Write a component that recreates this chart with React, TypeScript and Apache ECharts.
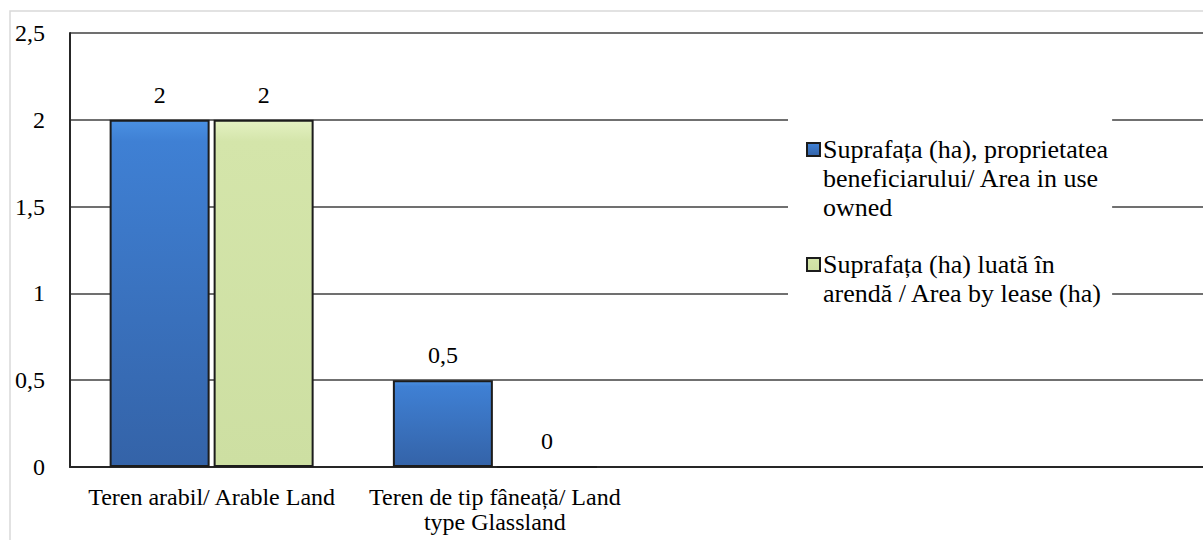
import React, { useEffect, useRef } from "react";
import * as echarts from "echarts";

const categories = [
  "Teren arabil/ Arable Land",
  "Teren de tip fâneață/ Land\ntype Glassland",
  "",
  "",
];
const seriesNames = [
  "Suprafața (ha), proprietatea beneficiarului/ Area in use owned",
  "Suprafața (ha) luată în arendă / Area by lease (ha)",
];
const legendLines: Record<string, string> = {
  [seriesNames[0]]: "\n\nSuprafața (ha), proprietatea\nbeneficiarului/ Area in use\nowned",
  [seriesNames[1]]: "\nSuprafața (ha) luată în\narendă / Area by lease (ha)",
};
const ownedValues = [2, 0.5, null, null];
const leaseValues = [2, 0, null, null];
const yTicks = [0, 0.5, 1, 1.5, 2, 2.5];

const FONT = "Liberation Serif";

export default function App() {
  const ref = useRef<HTMLDivElement>(null);
  useEffect(() => {
    if (!ref.current) return;
    const chart = echarts.init(ref.current, null, { renderer: "svg" });
    const blue = new echarts.graphic.LinearGradient(0, 0, 0, 1, [
      { offset: 0, color: "#4a90e2" },
      { offset: 0.06, color: "#3f80d4" },
      { offset: 1, color: "#3463a8" },
    ]);
    const green = new echarts.graphic.LinearGradient(0, 0, 0, 1, [
      { offset: 0, color: "#e4f1c2" },
      { offset: 0.06, color: "#d4e5aa" },
      { offset: 1, color: "#cddfa2" },
    ]);
    const label = {
      show: true,
      position: "top" as const,
      distance: 13,
      fontFamily: FONT,
      fontSize: 24,
      color: "#000",
      formatter: (p: any) => String(p.value).replace(".", ","),
    };
    chart.setOption({
      animation: false,
      backgroundColor: "#fff",
      textStyle: { fontFamily: FONT },
      graphic: [
        {
          type: "rect",
          shape: { x: 10, y: 11, width: 1220, height: 560 },
          style: { fill: "none", stroke: "#d9d9d9", lineWidth: 1.5 },
          silent: true,
          z: -10,
        },
      ],
      grid: { left: 70, right: -16, top: 33, bottom: 73 },
      legend: {
        orient: "vertical",
        left: 788,
        top: 73,
        itemWidth: 13,
        itemHeight: 13,
        itemGap: -1,
        padding: [4, 4, 14, 18],
        backgroundColor: "#fff",
        icon: "rect",
        textStyle: {
          fontFamily: FONT,
          fontSize: 26,
          lineHeight: 29,
          color: "#000",
          padding: [0, 0, 0, -2],
        },
        formatter: (name: string) => legendLines[name],
        data: seriesNames,
        z: 5,
      },
      xAxis: {
        type: "category",
        data: categories,
        axisLine: { lineStyle: { color: "#262626", width: 2 } },
        axisTick: { show: false },
        axisLabel: {
          interval: 0,
          fontFamily: FONT,
          fontSize: 24,
          lineHeight: 25,
          color: "#000",
          margin: 17,
        },
      },
      yAxis: {
        type: "value",
        min: 0,
        max: 2.5,
        interval: 0.5,
        axisLine: { show: true, lineStyle: { color: "#262626", width: 2 } },
        axisTick: { show: false },
        splitLine: { lineStyle: { color: "#404040", width: 1.5 } },
        axisLabel: {
          fontFamily: FONT,
          fontSize: 24,
          color: "#000",
          margin: 25,
          formatter: (v: number) => (yTicks.includes(v) ? String(v).replace(".", ",") : ""),
        },
      },
      series: [
        {
          name: seriesNames[0],
          type: "bar",
          data: ownedValues,
          barWidth: 100,
          barGap: "4%",
          itemStyle: { color: blue, borderColor: "#1c1c1c", borderWidth: 2 },
          label,
          z: 3,
        },
        {
          name: seriesNames[1],
          type: "bar",
          data: leaseValues,
          barWidth: 100,
          itemStyle: { color: green, borderColor: "#1c1c1c", borderWidth: 2 },
          label,
          z: 3,
        },
      ],
    });
    return () => chart.dispose();
  }, []);
  return (
    <div
      ref={ref}
      style={{ position: "fixed", left: 0, top: 0, width: 1203, height: 540 }}
    />
  );
}
